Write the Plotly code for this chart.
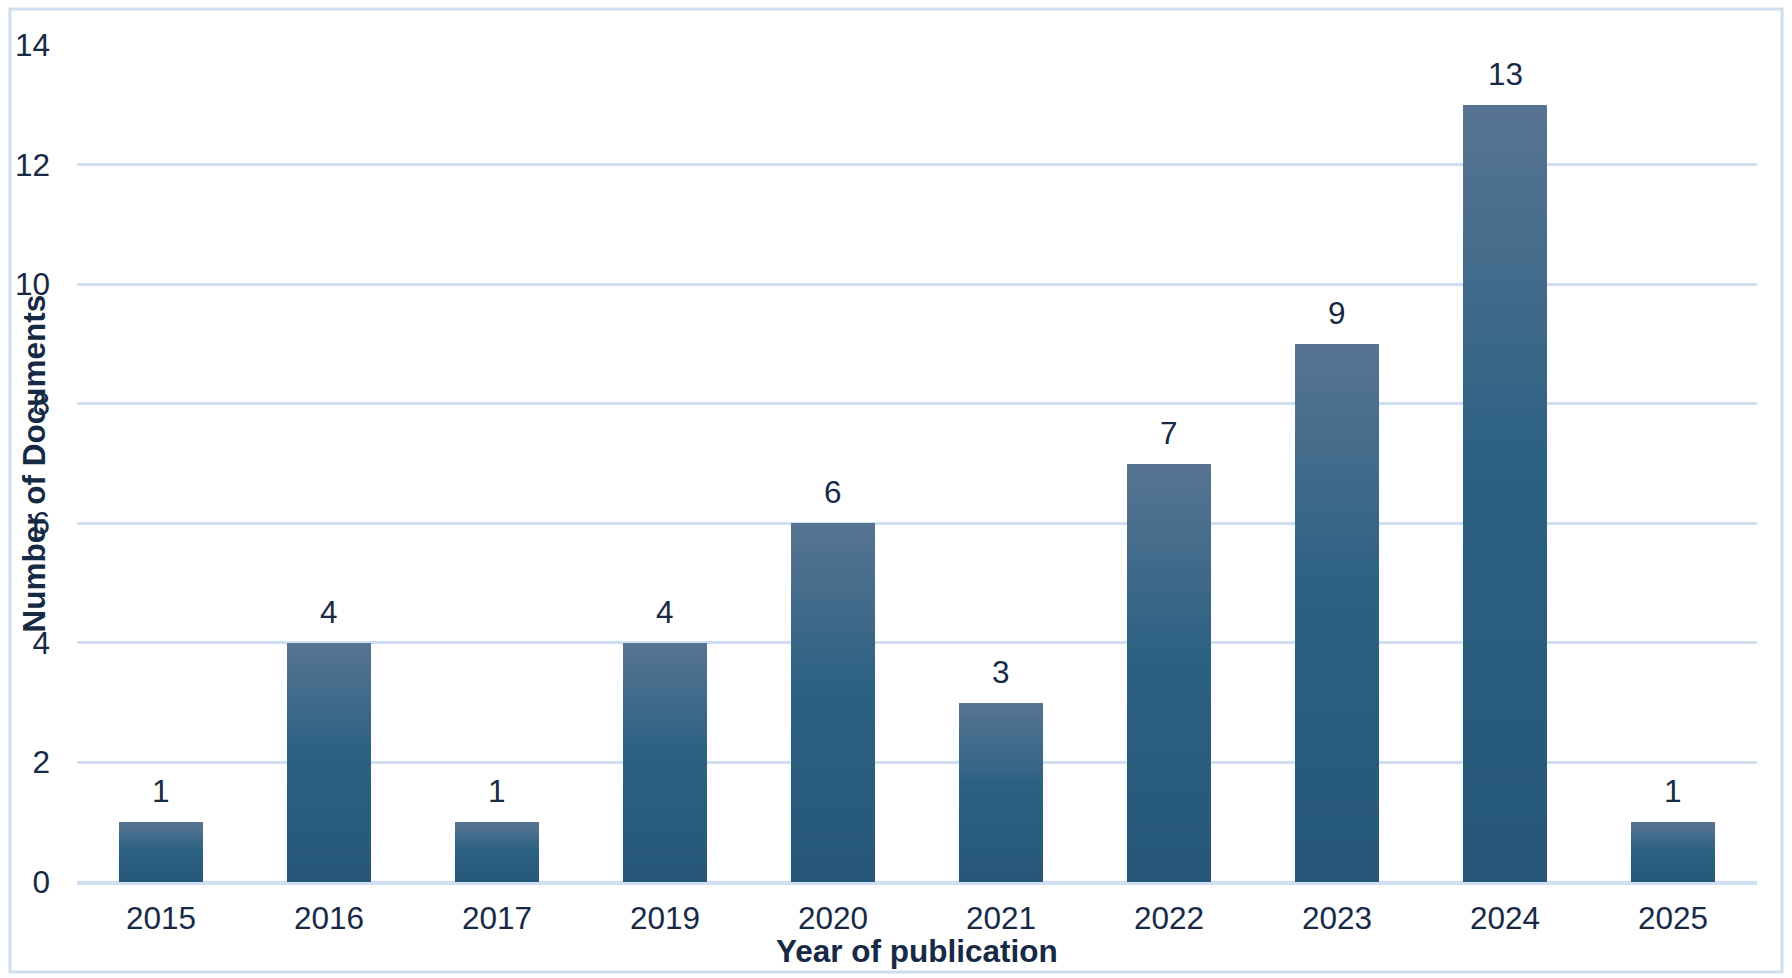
import plotly.graph_objects as go
from plotly.colors import sample_colorscale

years = ["2015", "2016", "2017", "2019", "2020", "2021", "2022", "2023", "2024", "2025"]
documents = [1, 4, 1, 4, 6, 3, 7, 9, 13, 1]
y_ticks = [0, 2, 4, 6, 8, 10, 12, 14]

FONT = "Liberation Sans, Arial, Helvetica, sans-serif"
FS = 31.5
TEXT = "#172a45"
GRID = "#cddff1"

# vertical gradient per bar: built as thin stacked slices of each bar's value
N_SLICES = 48
grad_scale = [[0.0, "#265779"], [0.55, "#2d6184"], [1.0, "#567491"]]  # bottom -> top
slice_colors = sample_colorscale(grad_scale, [i / (N_SLICES - 1) for i in range(N_SLICES)])

fig = go.Figure()
for i in range(N_SLICES):
    fig.add_trace(go.Bar(
        x=years,
        y=[v / N_SLICES for v in documents],
        marker=dict(color=slice_colors[i], line=dict(width=0)),
        hoverinfo="skip",
        showlegend=False,
    ))

# value labels above bars (category index positions)
for idx, v in enumerate(documents):
    fig.add_annotation(
        x=idx, y=v, xref="x", yref="y", text=str(v), showarrow=False,
        yanchor="bottom", yshift=11,
        font=dict(family=FONT, size=FS, color=TEXT),
    )

# y-axis title
fig.add_annotation(
    xref="paper", yref="paper", x=-0.0256, y=0.5, text="<b>Number of Documents</b>",
    textangle=-90, showarrow=False, xanchor="center", yanchor="middle",
    font=dict(family=FONT, size=FS, color=TEXT),
)

# x-axis title
fig.add_annotation(
    xref="paper", yref="paper", x=0.5, y=-0.0825, text="<b>Year of publication</b>",
    showarrow=False, xanchor="center", yanchor="middle",
    font=dict(family=FONT, size=FS, color=TEXT),
)

# outer border
fig.add_shape(
    type="rect", xref="paper", yref="paper",
    x0=-0.0399, x1=1.0149, y0=-0.1075, y1=1.043,
    line=dict(color=GRID, width=3), fillcolor="rgba(0,0,0,0)", layer="below",
)

fig.update_layout(
    width=1792, height=978,
    barmode="stack", bargap=0.5,
    paper_bgcolor="white", plot_bgcolor="white",
    margin=dict(l=77, r=35, t=45, b=96, autoexpand=False),
    font=dict(family=FONT, size=FS, color=TEXT),
    xaxis=dict(
        type="category", categoryorder="array", categoryarray=years,
        range=[-0.5, len(years) - 0.5],
        showgrid=False, showline=True, linecolor=GRID, linewidth=3,
        ticks="", ticklabelstandoff=6,
        tickfont=dict(family=FONT, size=FS, color=TEXT),
        automargin=False,
    ),
    yaxis=dict(
        range=[0, 14], tickvals=y_ticks, ticktext=[str(t) for t in y_ticks],
        showgrid=True, gridcolor=GRID, gridwidth=2.5,
        zeroline=True, zerolinecolor=GRID, zerolinewidth=2.5,
        showline=False, ticks="", ticklabelstandoff=26,
        tickfont=dict(family=FONT, size=FS, color=TEXT),
        automargin=False,
    ),
)

fig.write_html("out.html", config={"displayModeBar": False},
               post_script="document.body.style.margin='0px';")
